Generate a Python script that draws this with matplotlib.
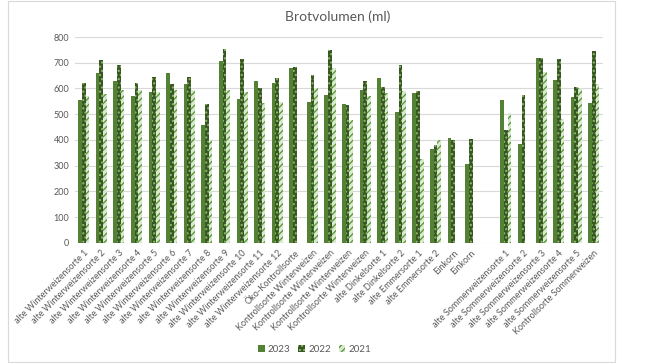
import numpy as np
import matplotlib
matplotlib.use("Agg")
import matplotlib.pyplot as plt
from matplotlib.patches import Rectangle

plt.rcParams['font.family'] = ['Lato', 'DejaVu Sans']
plt.rcParams['hatch.linewidth'] = 1.0

# Sorten (leere Kategorie als Abstand vor den Sommerweizen)
sorten = ["alte Winterweizensorte %d" % i for i in range(1, 13)] + [
    "Öko-Kontrollsorte",
    "Kontrollsorte Winterweizen",
    "Kontrollsorte Winterweizen",
    "Kontrollsorte Winterweizen",
    "Kontrollsorte Winterweizen",
    "alte Dinkelsorte 1",
    "alte Dinkelsorte 2",
    "alte Emmersorte 1",
    "alte Emmersorte 2",
    "Einkorn",
    "Einkorn",
    "",
] + ["alte Sommerweizensorte %d" % i for i in range(1, 6)] + [
    "Kontrollsorte Sommerweizen"]

nan = np.nan
vol_2023 = [555, 660, 630, 570, 588, 660, 618, 459, 705, 559, 630, 620,
            679, 548, 574, 539, 594, 640, 510, 584, 365, 408, 306, nan,
            555, 385, 720, 634, 566, 545]
vol_2022 = [623, 710, 690, 623, 645, 618, 645, 541, 755, 715, 600, 640,
            685, 654, 750, 534, 629, 604, 690, 590, 379, 400, 405, nan,
            439, 574, 720, 716, 604, 746]
vol_2021 = [572, 580, 595, 596, 588, 596, 595, 400, 595, 588, 543, 548,
            nan, 600, 680, 479, 570, 584, 592, 325, 400, nan, nan, nan,
            505, nan, 665, 480, 600, 617]

fig = plt.figure(figsize=(6.46, 3.63), dpi=100)
ax = fig.add_axes([0.116, 0.331, 0.817, 0.567])

x = np.arange(len(sorten))
w = 0.21
grau = "#595959"

ax.bar(x - w, vol_2023, w, color="#548235", label="2023", zorder=3)
ax.bar(x, vol_2022, w, color="#375623", edgecolor="#8fbc6a", hatch="....",
       linewidth=0, label="2022", zorder=3)
ax.bar(x + w, vol_2021, w, color="#d9ead0", edgecolor="#5f9a3c", hatch="/////",
       linewidth=0, label="2021", zorder=3)

ax.set_xlim(-0.5, len(sorten) - 0.5)
ax.set_ylim(0, 800)
ax.set_yticks(range(0, 801, 100))
ax.yaxis.grid(True, color="#d9d9d9", linewidth=0.8, zorder=0)
for s in ax.spines.values():
    s.set_visible(False)
ax.tick_params(axis="both", length=0, labelsize=6.5, colors=grau, pad=4)
ax.set_xticks(x)
ax.set_xticklabels(sorten, rotation=45, ha="right", rotation_mode="anchor")

fig.text(0.523, 0.955, "Brotvolumen (ml)", ha="center", va="center",
         fontsize=10, color=grau)

leg = fig.legend(loc="center", bbox_to_anchor=(0.487, 0.038), ncol=3,
                 frameon=False, fontsize=7, handlelength=0.7, handleheight=0.7,
                 handletextpad=0.3, columnspacing=0.8)
for t in leg.get_texts():
    t.set_color(grau)

# Rahmen des Diagrammbereichs
fig.patches.append(Rectangle((8 / 646, 0.003), 607 / 646, 0.994,
                             transform=fig.transFigure, fill=False,
                             edgecolor="#d9d9d9", linewidth=0.8))

fig.savefig("out.png", dpi=100, facecolor="white")
